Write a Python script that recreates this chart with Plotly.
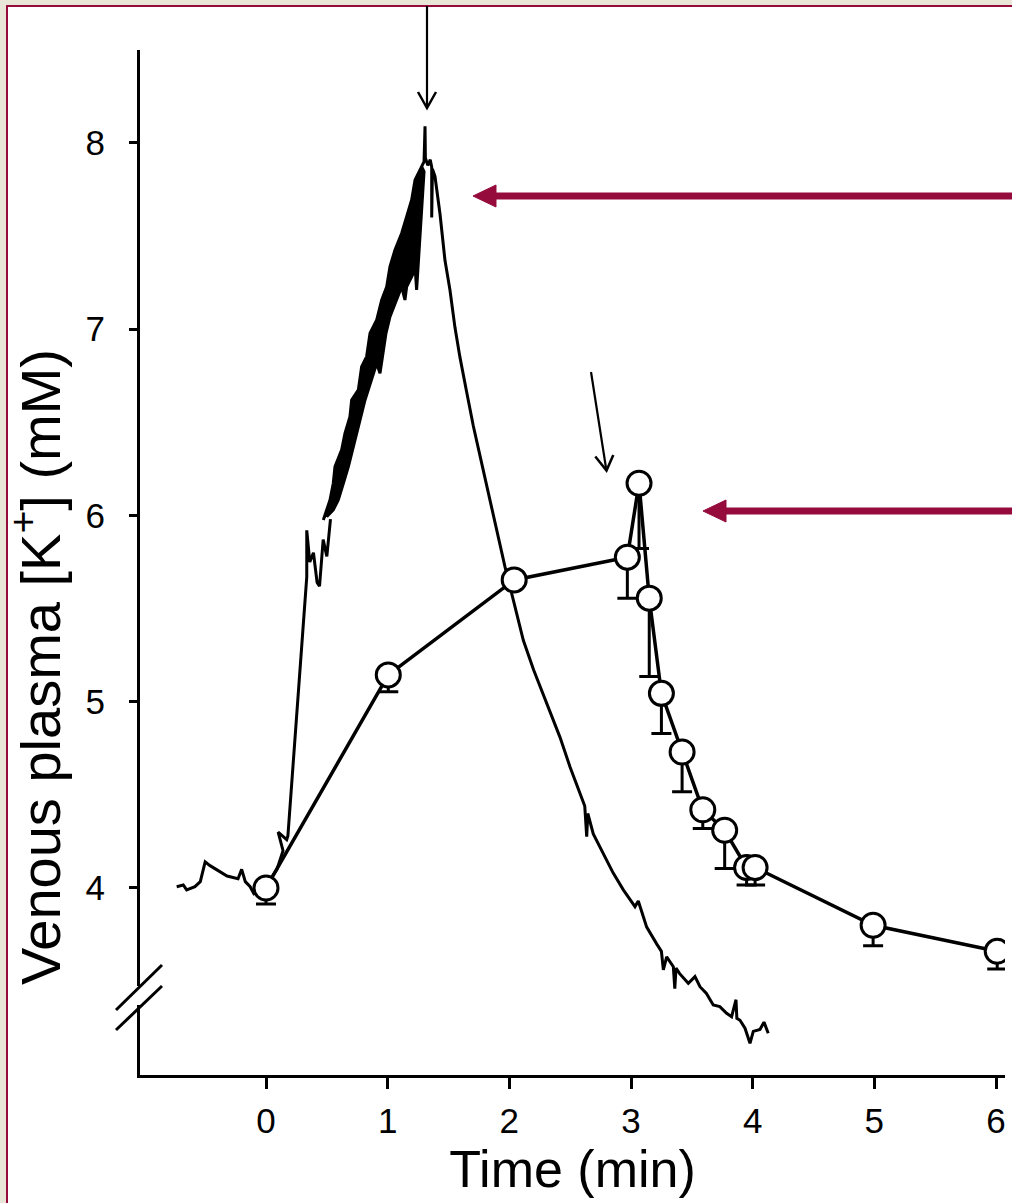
import plotly.graph_objects as go

# ---------------- data ----------------
# continuous venous [K+] recording: baseline and rapid rise
rise_t = [-0.734, -0.68, -0.652, -0.584, -0.54, -0.50, -0.46, -0.39, -0.32, -0.23, -0.20, -0.17,
          -0.13, -0.10, -0.05, 0.005, 0.09, 0.14, 0.10, 0.17, 0.18, 0.335, 0.335, 0.36, 0.39,
          0.42, 0.44, 0.47, 0.50, 0.53]
rise_k = [4.007, 4.016, 3.99, 4.007, 4.034, 4.14, 4.12, 4.09, 4.064, 4.05, 4.10, 4.034,
          4.007, 3.97, 3.99, 4.016, 4.10, 4.20, 4.30, 4.26, 4.28, 5.67, 5.92, 5.75, 5.80,
          5.64, 5.62, 5.87, 5.78, 5.98]

# noisy band during infusion: upper (left) edge and lower (right) edge
band_up_t = [0.471, 0.526, 0.553, 0.567, 0.622, 0.649, 0.690, 0.704, 0.759, 0.786, 0.827, 0.855,
             0.910, 0.951, 0.992, 1.019, 1.060, 1.115, 1.156, 1.197, 1.225, 1.252, 1.279]
band_up_k = [5.976, 6.083, 6.173, 6.262, 6.352, 6.441, 6.531, 6.620, 6.674, 6.799, 6.853, 6.978,
             7.050, 7.157, 7.228, 7.336, 7.425, 7.515, 7.604, 7.694, 7.801, 7.837, 7.873]
band_lo_t = [1.299, 1.288, 1.279, 1.266, 1.260, 1.238, 1.225, 1.211, 1.156, 1.142, 1.115, 1.074,
             1.019, 0.986, 0.964, 0.937, 0.910, 0.855, 0.814, 0.773, 0.745, 0.704, 0.677, 0.636,
             0.594, 0.553, 0.499]
band_lo_k = [7.846, 7.730, 7.640, 7.515, 7.390, 7.211, 7.336, 7.300, 7.228, 7.157, 7.228, 7.157,
             7.067, 6.978, 6.871, 6.763, 6.817, 6.710, 6.620, 6.513, 6.441, 6.334, 6.262, 6.173,
             6.083, 6.030, 5.994]

# peak and recovery
decl_t = [1.279, 1.299, 1.307, 1.31, 1.33, 1.35, 1.362, 1.362, 1.368, 1.389, 1.43, 1.471, 1.512,
          1.553, 1.594, 1.65, 1.704, 1.773, 1.841, 1.909, 1.964, 2.033, 2.115, 2.2, 2.3, 2.416,
          2.499, 2.581, 2.62, 2.636, 2.645, 2.69, 2.772, 2.854, 2.937, 3.033, 3.06, 3.129, 3.211,
          3.25, 3.266, 3.293, 3.348, 3.36, 3.37, 3.40, 3.471, 3.526, 3.567, 3.62, 3.676, 3.73,
          3.786, 3.827, 3.863, 3.87, 3.896, 3.937, 3.978, 4.005, 4.06, 4.093, 4.128]
decl_k = [7.873, 7.90, 8.09, 7.92, 7.88, 7.91, 7.87, 7.60, 7.86, 7.82, 7.62, 7.37, 7.21,
          7.01, 6.85, 6.66, 6.48, 6.28, 6.08, 5.886, 5.725, 5.546, 5.33, 5.17, 5.00, 4.81,
          4.65, 4.51, 4.44, 4.275, 4.40, 4.29, 4.186, 4.08, 3.99, 3.90, 3.93, 3.79, 3.70,
          3.66, 3.56, 3.63, 3.577, 3.46, 3.57, 3.54, 3.488, 3.524, 3.47, 3.434, 3.372, 3.363,
          3.327, 3.309, 3.40, 3.30, 3.29, 3.247, 3.166, 3.23, 3.24, 3.28, 3.22]

# mean values (open circles) with SE (lower only)
mean_t = [0, 1.005, 2.04, 2.97, 3.066, 3.15, 3.25, 3.42, 3.59, 3.77, 3.95, 4.02, 4.99, 6.01]
mean_k = [4.0, 5.144, 5.654, 5.776, 6.173, 5.556, 5.045, 4.73, 4.42, 4.31, 4.11, 4.11, 3.80, 3.66]
mean_se = [0.086, 0.09, 0.0, 0.22, 0.35, 0.42, 0.215, 0.213, 0.10, 0.205, 0.094, 0.094, 0.11, 0.095]

x_ticks = [0, 1, 2, 3, 4, 5, 6]
y_ticks = [4, 5, 6, 7, 8]
x_title = "Time (min)"
y_title = "Venous plasma [K<sup>+</sup>] (mM)"

# ---------------- layout geometry ----------------
W, H = 1012, 1203
L, R, T, B = 140, 7, 50, 128
PW, PH = W - L - R, H - T - B
X_RANGE = [-1.0356, 6.074]
Y_RANGE = [2.996, 8.499]


def px_x(p):  # pixel -> paper x
    return (p - L) / PW


def px_y(p):  # pixel -> paper y
    return (H - B - p) / PH


def px_path(points, close=False):
    s = "M " + " L ".join(f"{px_x(x):.5f},{px_y(y):.5f}" for x, y in points)
    return s + (" Z" if close else "")


BLACK = "#000000"
MAROON = "#950b3c"
FONT = "Liberation Sans, Arial, Helvetica, sans-serif"

fig = go.Figure()

fig.add_trace(go.Scatter(x=rise_t, y=rise_k, mode="lines",
                         line=dict(color=BLACK, width=3), hoverinfo="skip"))
fig.add_trace(go.Scatter(x=band_up_t + band_lo_t, y=band_up_k + band_lo_k, mode="lines",
                         fill="toself", fillcolor=BLACK,
                         line=dict(color=BLACK, width=3), hoverinfo="skip"))
fig.add_trace(go.Scatter(x=decl_t, y=decl_k, mode="lines",
                         line=dict(color=BLACK, width=3), hoverinfo="skip"))
fig.add_trace(go.Scatter(
    x=mean_t, y=mean_k, mode="lines+markers",
    line=dict(color=BLACK, width=3.5),
    marker=dict(symbol="circle", size=24, color="white", line=dict(color=BLACK, width=3)),
    error_y=dict(type="data", symmetric=False, array=[0] * len(mean_se), arrayminus=mean_se,
                 color=BLACK, thickness=3, width=10),
))

fig.update_layout(
    width=W, height=H, autosize=False,
    margin=dict(l=L, r=R, t=T, b=B),
    paper_bgcolor="#e9e5d7", plot_bgcolor="rgba(0,0,0,0)",
    showlegend=False,
    font=dict(family=FONT, color=BLACK),
    xaxis=dict(range=X_RANGE, tickvals=x_ticks, ticktext=[str(v) for v in x_ticks],
               showgrid=False, zeroline=False, showline=True, linecolor=BLACK, linewidth=3,
               ticks="outside", ticklen=11, tickwidth=3, tickcolor=BLACK,
               tickfont=dict(size=35, family=FONT), ticklabelstandoff=2,
               title=dict(text=x_title, font=dict(size=52, family=FONT, color=BLACK),
                          standoff=10)),
    yaxis=dict(range=Y_RANGE, tickvals=y_ticks, ticktext=[str(v) for v in y_ticks],
               showgrid=False, zeroline=False, showline=True, linecolor=BLACK, linewidth=3,
               ticks="outside", ticklen=8, tickwidth=3, tickcolor=BLACK,
               tickfont=dict(size=35, family=FONT), ticklabelstandoff=17),
)

# y-axis title (placed lower than the plot centre, as in the original)
fig.add_annotation(text=y_title, xref="paper", yref="paper",
                   x=px_x(36), y=px_y(667), xanchor="center", yanchor="middle",
                   textangle=-90, showarrow=False,
                   font=dict(size=56, family=FONT, color=BLACK))

# frame: white panel with maroon border over the textured background
fig.add_shape(type="rect", xref="paper", yref="paper", layer="below",
              x0=px_x(7), x1=px_x(1030), y0=px_y(1230), y1=px_y(6),
              fillcolor="white", line=dict(color=MAROON, width=2))

# axis break on the y axis
fig.add_shape(type="line", xref="paper", yref="paper", layer="above",
              x0=0, x1=0, y0=px_y(1005), y1=px_y(986),
              line=dict(color="white", width=6))
for (xa, ya, xb, yb) in [(116, 1010, 162, 965), (116, 1030, 162, 986)]:
    fig.add_shape(type="line", xref="paper", yref="paper", layer="above",
                  x0=px_x(xa), y0=px_y(ya), x1=px_x(xb), y1=px_y(yb),
                  line=dict(color=BLACK, width=3))

# thin black arrows (shaft + open head)
fig.add_shape(type="path", xref="paper", yref="paper", layer="above",
              path=px_path([(427, 6), (427, 106)]), line=dict(color=BLACK, width=2.2))
fig.add_shape(type="path", xref="paper", yref="paper", layer="above",
              path=px_path([(418, 92), (427, 108), (436, 92)]), line=dict(color=BLACK, width=2.5))
fig.add_shape(type="path", xref="paper", yref="paper", layer="above",
              path=px_path([(591, 372), (606, 468)]), line=dict(color=BLACK, width=2.2))
fig.add_shape(type="path", xref="paper", yref="paper", layer="above",
              path=px_path([(595.3, 456.5), (606.5, 470.5), (613.3, 455)]),
              line=dict(color=BLACK, width=2.5))

# thick maroon arrows (shaft + filled head)
for (tip_x, tip_y) in [(473, 196), (703, 511)]:
    fig.add_shape(type="line", xref="paper", yref="paper", layer="above",
                  x0=px_x(tip_x + 18), y0=px_y(tip_y), x1=px_x(1030), y1=px_y(tip_y),
                  line=dict(color=MAROON, width=7))
    fig.add_shape(type="path", xref="paper", yref="paper", layer="above",
                  path=px_path([(tip_x, tip_y), (tip_x + 23, tip_y - 11),
                                (tip_x + 23, tip_y + 11)], close=True),
                  fillcolor=MAROON, line=dict(color=MAROON, width=1))

fig.write_html("out.html",
               config={"displayModeBar": False},
               post_script="document.body.style.margin='0px';"
                           "document.body.style.overflow='hidden';")
